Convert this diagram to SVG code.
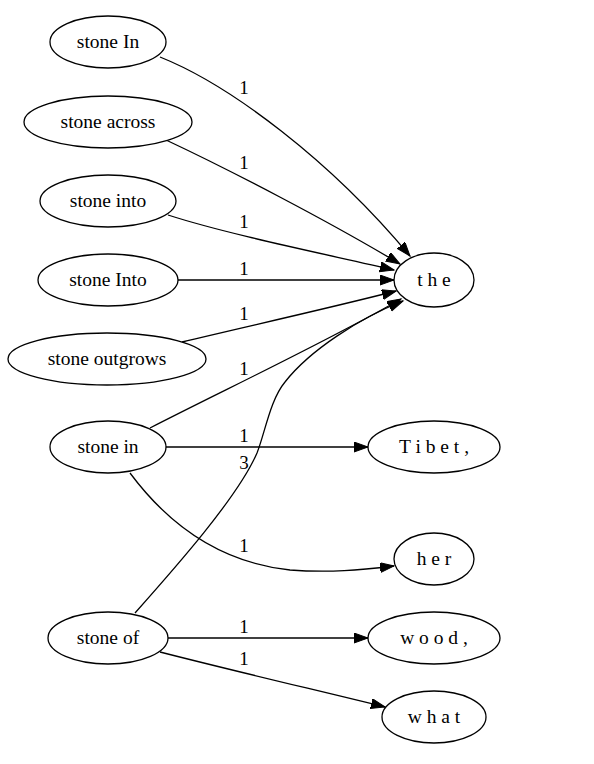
<svg xmlns="http://www.w3.org/2000/svg" width="594" height="764" viewBox="0 0 594 764">
  <style>
    .node ellipse { fill: #ffffff; stroke: #000000; stroke-width: 1.3; }
    .node text { font-family: "Liberation Serif", "Times New Roman", serif; font-size: 19.5px; text-anchor: middle; fill: #000000; }
    .edges path { fill: none; stroke: #000000; stroke-width: 1.3; marker-end: url(#arrow); }
    .edges text { font-family: "Liberation Serif", "Times New Roman", serif; font-size: 19px; text-anchor: middle; fill: #000000; }
  </style>
  <defs>
    <marker id="arrow" markerUnits="userSpaceOnUse" markerWidth="16" markerHeight="12" refX="14" refY="5" orient="auto">
      <path d="M0,0 L14,5 L0,10 Z" fill="#000000" stroke="#000000" stroke-width="1"/>
    </marker>
  </defs>
  <rect width="594" height="764" fill="#ffffff"/>

  <g class="edges" id="edges">
    <path d="M160,57 C230,85 330,160 410,256"/>
    <text x="244" y="94">1</text>
    <path d="M166,140 C230,170 330,222 400,264"/>
    <text x="244" y="169">1</text>
    <path d="M168,215 C230,235 330,255 394,270"/>
    <text x="244" y="228">1</text>
    <path d="M178,280 L394,280"/>
    <text x="244" y="275">1</text>
    <path d="M182,342 C240,328 330,308 396,291"/>
    <text x="244" y="320">1</text>
    <path d="M150,428 C220,392 330,340 401,299"/>
    <text x="244" y="375">1</text>
    <path d="M166,447 L368,447"/>
    <text x="244" y="442">1</text>
    <path d="M135,613 C175,568 238,497 257,453 C265,433 270,400 285,382 C310,350 360,318 403,301"/>
    <text x="244" y="469">3</text>
    <path d="M130,473 C165,520 215,562 290,570 C330,573 360,570 394,566"/>
    <text x="244" y="552">1</text>
    <path d="M168,638 L368,638"/>
    <text x="244" y="633">1</text>
    <path d="M160,652 C230,670 320,691 385,707"/>
    <text x="244" y="665">1</text>
  </g>

  <g class="node" id="n-stone-In">
    <ellipse cx="108" cy="42" rx="58" ry="26"/>
    <text x="108" y="48">stone In</text>
  </g>
  <g class="node" id="n-stone-across">
    <ellipse cx="108" cy="122" rx="84" ry="26"/>
    <text x="108" y="128">stone across</text>
  </g>
  <g class="node" id="n-stone-into">
    <ellipse cx="108" cy="201" rx="68" ry="26"/>
    <text x="108" y="207">stone into</text>
  </g>
  <g class="node" id="n-stone-Into">
    <ellipse cx="108" cy="280" rx="70" ry="26"/>
    <text x="108" y="286">stone Into</text>
  </g>
  <g class="node" id="n-stone-outgrows">
    <ellipse cx="107" cy="359" rx="99" ry="26"/>
    <text x="107" y="365">stone outgrows</text>
  </g>
  <g class="node" id="n-stone-in">
    <ellipse cx="108" cy="447" rx="58" ry="26"/>
    <text x="108" y="453">stone in</text>
  </g>
  <g class="node" id="n-stone-of">
    <ellipse cx="108" cy="638" rx="60" ry="26"/>
    <text x="108" y="644">stone of</text>
  </g>

  <g class="node" id="n-the">
    <ellipse cx="434" cy="280" rx="40" ry="27"/>
    <text x="434" y="286">t h e</text>
  </g>
  <g class="node" id="n-Tibet">
    <ellipse cx="434" cy="447" rx="66" ry="26"/>
    <text x="434" y="453">T i b e t ,</text>
  </g>
  <g class="node" id="n-her">
    <ellipse cx="434" cy="559" rx="40" ry="26"/>
    <text x="434" y="565">h e r</text>
  </g>
  <g class="node" id="n-wood">
    <ellipse cx="434" cy="638" rx="66" ry="26"/>
    <text x="434" y="644">w o o d ,</text>
  </g>
  <g class="node" id="n-what">
    <ellipse cx="434" cy="717" rx="52" ry="26"/>
    <text x="434" y="723">w h a t</text>
  </g>
</svg>
